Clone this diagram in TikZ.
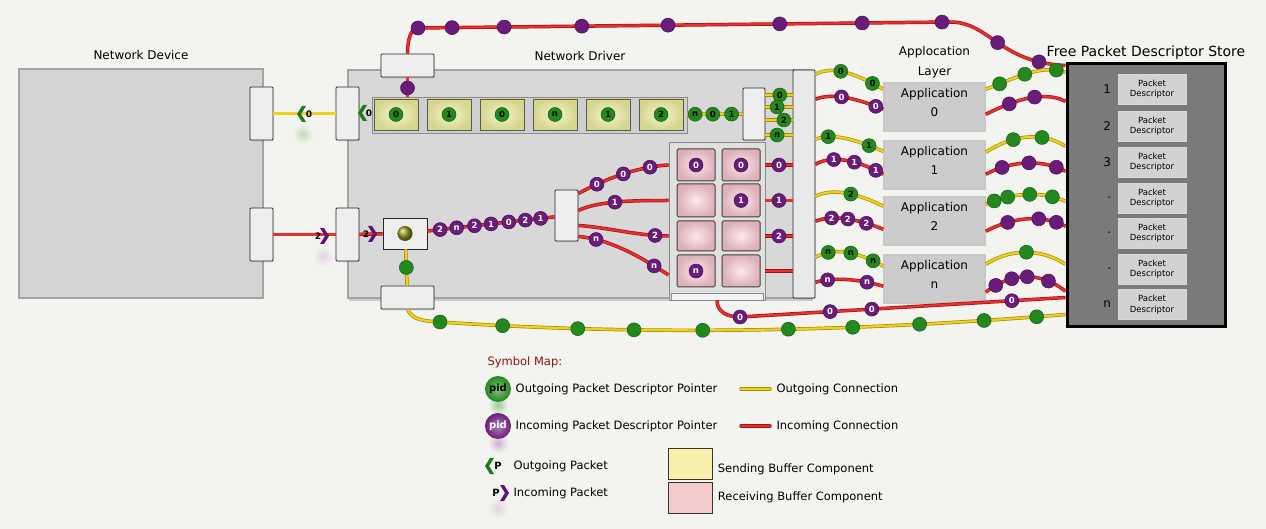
\documentclass[tikz,border=0pt]{standalone}
\usepackage{fontspec}
\setmainfont{DejaVu Sans}
\usetikzlibrary{positioning,fit,calc,shadows}

\definecolor{paper}{HTML}{F3F3F0}
\definecolor{boxgray}{HTML}{D4D4D4}
\definecolor{boxedge}{HTML}{A3A3A3}
\definecolor{drvgray}{HTML}{D8D8D8}
\definecolor{portfill}{HTML}{EEEEEE}
\definecolor{barfill}{HTML}{E9E9E9}
\definecolor{sendin}{HTML}{F4F4CF}
\definecolor{sendout}{HTML}{D6D68E}
\definecolor{recvin}{HTML}{FBE9EB}
\definecolor{recvout}{HTML}{DDB0B8}
\definecolor{appgray}{HTML}{CCCCCC}
\definecolor{storegray}{HTML}{7A7A7A}
\definecolor{pdgray}{HTML}{D2D2D2}
\definecolor{pidgreen}{HTML}{23891E}
\definecolor{pidgreenedge}{HTML}{135C10}
\definecolor{pidpurple}{HTML}{6A1C7B}
\definecolor{pidpurpleedge}{HTML}{470D55}
\definecolor{ylwcore}{HTML}{EED21E}
\definecolor{ylwedge}{HTML}{A88C00}
\definecolor{redcore}{HTML}{EC2E2E}
\definecolor{rededge}{HTML}{A01414}
\definecolor{chevgreen}{HTML}{1F7A1A}
\definecolor{chevpurple}{HTML}{5E1670}
\definecolor{inball}{HTML}{9C9A1E}
\definecolor{mapred}{HTML}{8A1212}
\definecolor{keyyellow}{HTML}{F6F0AA}
\definecolor{keypink}{HTML}{F6CACA}

\begin{document}
\begin{tikzpicture}[
    x=1pt, y=-1pt,
    font=\fontsize{11.5}{13}\selectfont,
    title/.style={font=\fontsize{12}{14}\selectfont},
    block/.style={draw=boxedge, fill=boxgray, line width=1.2pt, inner sep=0pt},
    port/.style={draw=black!85, fill=portfill, line width=0.9pt, rounded corners=1pt, inner sep=0pt,
        drop shadow={opacity=0.2, shadow xshift=1pt, shadow yshift=-1.5pt}},
    holder/.style={draw=black!45, fill=black!19, line width=0.8pt, inner sep=0pt},
    sendcell/.style={draw=black!65, line width=0.8pt, inner color=sendin, outer color=sendout, inner sep=0pt},
    recvcell/.style={draw=black!75, line width=1pt, rounded corners=1.5pt, inner color=recvin, outer color=recvout, inner sep=0pt},
    appbox/.style={draw=black!22, fill=appgray, line width=1.5pt, inner sep=0pt, align=center, font=\fontsize{12}{19}\selectfont},
    pdbox/.style={fill=pdgray, draw=black!15, line width=0.8pt, minimum width=68pt, minimum height=30pt, inner sep=0pt,
        align=center, font=\fontsize{8.5}{10.5}\selectfont},
    gdot/.style={circle, fill=pidgreen, draw=pidgreenedge, line width=0.5pt, minimum size=14pt, inner sep=0pt,
        text=black, font=\bfseries\fontsize{8.5}{8.5}\selectfont},
    pdot/.style={gdot, fill=pidpurple, draw=pidpurpleedge, text=white},
    keyball/.style={circle, minimum size=26pt, inner sep=0pt, inner color=#1!55!white, outer color=#1,
        font=\bfseries\fontsize{10}{10}\selectfont},
    yline/.style={draw=ylwedge, double=ylwcore, double distance=2.1pt, line width=0.7pt},
    rline/.style={draw=rededge, double=redcore, double distance=2.1pt, line width=0.7pt},
    pktlabel/.style={font=\bfseries\fontsize{9}{9}\selectfont, inner sep=0pt},
    glow/.style={circle, minimum size=20pt, inner sep=0pt, inner color=#1, outer color=paper},
    chevout/.pic={\fill[chevgreen] (4,-8) -- (0,-8) -- (-5,0) -- (0,8) -- (4,8) -- (-1,0) -- cycle;},
    chevin/.pic={\fill[chevpurple] (-4,-8) -- (0,-8) -- (5,0) -- (0,8) -- (-4,8) -- (1,0) -- cycle;},
]
\fill[paper] (0,0) rectangle (1266,529);
\useasboundingbox (0,0) rectangle (1266,529);

% device and driver
\node[block, fit={(19,69) (263,298)}] (device) {};
\node[title, above=5pt of device] (devicetitle) {Network Device};
\node[block, fill=drvgray, fit={(348,70) (812,298)}, drop shadow={opacity=0.35, shadow xshift=1pt, shadow yshift=-3pt}] (driver) {};
\node[title, above=5pt of driver] (drivertitle) {Network Driver};

% descriptor store
\node[draw=black, line width=3pt, fill=storegray, inner sep=0pt, fit={(1067,64) (1225,326)}] (store) {};
\node[title, font=\fontsize{14}{16}\selectfont, above=0pt of store] (storetitle) {Free Packet Descriptor Store};
\foreach \i/\lab/\yy in {1/1/89, 2/2/126, 3/3/162, 4/./198, 5/./233, 6/./269, 7/n/304.5}{
  \node[pdbox] (pd\i) at (1152,\yy) {Packet\\Descriptor};
  \node[font=\fontsize{12}{14}\selectfont, left=3pt of pd\i] (pdnum\i) {\lab};
}

% application layer
\foreach \i/\lab/\yt/\yb in {0/0/83/131, 1/1/141/189, 2/2/197/245, 3/n/255/303}
  \node[appbox, fit={(884,\yt) (985,\yb)}] (app\i) {Application\\\lab};
\node[font=\fontsize{12}{20}\selectfont, align=center, above=1pt of app0] (layertitle) {Applocation\\Layer};

% ports
\node[port, fill=barfill, fit={(793,70) (815,298)}] (bar) {};
\node[port, fit={(250,87) (273,140)}] (devout) {};
\node[port, fit={(250,208) (273,261)}] (devin) {};
\node[port, fit={(336,87) (359,140)}] (drvout) {};
\node[port, fit={(336,208) (359,261)}] (drvin) {};
\node[port, fit={(381,54) (434,77)}] (topport) {};
\node[port, fit={(381,286) (434,309)}] (bottomport) {};
\node[port, fit={(743,88) (765,140)}] (sendport) {};
\node[port, fit={(555,190) (578,241)}] (splitport) {};
\node[port, rounded corners=0pt, fit={(383,218) (427,249)}] (inbox) {};
\node[circle, minimum size=15pt, inner sep=0pt, ball color=inball] (inpkt) at (inbox) {};

% sending buffer
\node[holder, fit={(372,97) (687,133)}] (sendbuf) {};
\foreach \i/\xl/\lab in {1/374/0, 2/427/1, 3/480/0, 4/533/n, 5/586/1, 6/639/2}{
  \node[sendcell, fit={(\xl,99) (\xl+44,130)}] (scell\i) {};
  \node[gdot] (spid\i) at (scell\i) {\lab};
}

% receiving buffer
\node[holder, fill=black!12, fit={(669,142) (765,300)}] (recvbuf) {};
\node[draw=black!45, fill=black!5, inner sep=0pt, fit={(671,293) (763,300)}] (recvtray) {};
\foreach \r/\yt/\yb in {1/149/181, 2/184/217, 3/221/251, 4/255/287}
  \foreach \c/\xl/\xr in {1/677/715, 2/722/760}
    \node[recvcell, fit={(\xl,\yt) (\xr,\yb)}] (rcell\r\c) {};
\node[pdot] (rpid11) at (rcell11) {0};
\node[pdot] (rpid12) at (rcell12) {0};
\node[pdot] (rpid22) at (rcell22) {1};
\node[pdot] (rpid41) at (rcell41) {n};

% packets between device and driver
\draw[yline] (devout) -- (drvout);
\draw[rline] (devin) -- (drvin);
\draw[rline] (drvin) -- (inbox);
\draw[yline] (inbox) -- (bottomport) node[gdot, pos=0.5] (inpid) {};

% incoming descriptors to the receiving buffer
\draw[rline] (inbox) -- (splitport)
  node[pdot,pos=.10]{2} node[pdot,pos=.23]{n} node[pdot,pos=.37]{2} node[pdot,pos=.5]{1}
  node[pdot,pos=.64]{0} node[pdot,pos=.77]{2} node[pdot,pos=.89]{1};
\draw[rline] ($(splitport.east)+(0,-22)$) .. controls +(22,-12) and +(-35,2) .. (recvbuf.west |- rcell11)
  node[pdot,pos=.25]{0} node[pdot,pos=.55]{0} node[pdot,pos=.82]{0};
\draw[rline] ($(splitport.east)+(0,-5)$) .. controls +(20,-10) and +(-30,0) .. (recvbuf.west |- rcell21)
  node[pdot,pos=.45]{1};
\draw[rline] ($(splitport.east)+(0,10)$) .. controls +(30,2) and +(-30,0) .. (recvbuf.west |- rcell31)
  node[pdot,pos=.85]{2};
\draw[rline] ($(splitport.east)+(0,21)$) .. controls +(35,3) and +(-22,-14) .. ($(recvbuf.west |- rcell41)+(0,4)$)
  node[pdot,pos=.17]{n} node[pdot,pos=.8]{n};
\draw[rline] (recvbuf.east |- rcell12) -- (bar.west |- rcell12) node[pdot,pos=.5]{0};
\draw[rline] (recvbuf.east |- rcell22) -- (bar.west |- rcell22) node[pdot,pos=.5]{1};
\draw[rline] (recvbuf.east |- rcell32) -- (bar.west |- rcell32) node[pdot,pos=.5]{2};
\draw[rline] (recvbuf.east |- rcell42) -- (bar.west |- rcell42);

% outgoing descriptors from the sending buffer
\draw[yline] (sendbuf) -- (sendport) node[gdot,pos=.14]{n} node[gdot,pos=.46]{0} node[gdot,pos=.8]{1};
\foreach \dy/\p/\lab in {-19/.53/0, -7/.43/1, 6/.68/2, 21/.43/n}
  \draw[yline] ($(sendport.east)+(0,\dy)$) -- ($(bar.west |- sendport.east)+(0,\dy)$) node[gdot,pos=\p]{\lab};

% return of free descriptors
\coordinate (topbend) at (418,28);
\coordinate (topfar) at (950,22);
\draw[rline] (topport.north) .. controls +(0,-14) and +(-7,0) .. (topbend)
  -- (topfar) node[pdot,pos=0]{} node[pdot,pos=.064]{} node[pdot,pos=.162]{} node[pdot,pos=.308]{}
     node[pdot,pos=.47]{} node[pdot,pos=.68]{} node[pdot,pos=.835]{} node[pdot,pos=.985]{}
  .. controls +(40,0) and +(-67,-3) .. ($(store.north west)+(0,3)$) node[pdot,pos=.5]{} node[pdot,pos=.85]{};
\draw[rline] (topport) -- (sendbuf.north -| topport) node[pdot,pos=.55] (droppid) {};
\coordinate (lowbend) at (440,322);
\draw[yline] (bottomport.south) .. controls +(5,11) and +(-15,-1) .. (lowbend) node[gdot,pos=1]{}
  .. controls +(209,14) and +(-209,17) .. ($(store.south west)+(0,-13)$)
  node[gdot,pos=.1]{} node[gdot,pos=.22]{} node[gdot,pos=.31]{} node[gdot,pos=.42]{} node[gdot,pos=.557]{}
  node[gdot,pos=.66]{} node[gdot,pos=.767]{} node[gdot,pos=.87]{} node[gdot,pos=.954]{};
\coordinate (recvbend) at (740,317);
\draw[rline] (recvbuf.south) .. controls +(0,12) and +(-12,0) .. (recvbend)
  -- ($(store.south west)+(0,-30)$) node[pdot,pos=0]{0} node[pdot,pos=.277]{0} node[pdot,pos=.405]{0} node[pdot,pos=.835]{0};

% application links, bar side
\draw[yline] ($(bar.east |- app0.north)+(0,-8)$) .. controls +(20,-11) and +(-20,-11) .. ($(app0.north west)+(0,7)$)
  node[gdot,pos=.38]{0} node[gdot,pos=.83]{0};
\draw[rline] ($(bar.east |- app0.north)+(0,17)$) .. controls +(20,-8) and +(-20,-8) .. ($(app0.north west)+(0,27)$)
  node[pdot,pos=.39]{0} node[pdot,pos=.88]{0};
\draw[yline] ($(bar.east |- app1.north)+(0,-1)$) .. controls +(20,-8) and +(-20,-8) .. ($(app1.north west)+(0,11)$)
  node[gdot,pos=.2]{1} node[gdot,pos=.78]{1};
\draw[rline] ($(bar.east |- app1.north)+(0,24)$) .. controls +(20,-11) and +(-20,-11) .. ($(app1.north west)+(0,34)$)
  node[pdot,pos=.28]{1} node[pdot,pos=.57]{1} node[pdot,pos=.88]{1};
\draw[yline] (bar.east |- app2.north) .. controls +(20,-10) and +(-20,-10) .. ($(app2.north west)+(0,10)$)
  node[gdot,pos=.52]{2};
\draw[rline] ($(bar.east |- app2.north)+(0,25)$) .. controls +(20,-8) and +(-20,-8) .. ($(app2.north west)+(0,33)$)
  node[pdot,pos=.25]{2} node[pdot,pos=.48]{2} node[pdot,pos=.74]{2};
\draw[yline] ($(bar.east |- app3.north)+(0,3)$) .. controls +(20,-12) and +(-20,-12) .. ($(app3.north west)+(0,12)$)
  node[gdot,pos=.2]{n} node[gdot,pos=.52]{n} node[gdot,pos=.84]{n};
\draw[rline] ($(bar.east |- app3.north)+(0,28)$) .. controls +(20,-6) and +(-20,-6) .. ($(app3.north west)+(0,32)$)
  node[pdot,pos=.19]{n} node[pdot,pos=.75]{n};

% application links, store side
\draw[yline] ($(app0.north east)+(0,7)$) .. controls +(25,-9) and +(-25,-9) .. ($(store.west |- app0.north)+(0,-10)$)
  node[gdot,pos=.18]{} node[gdot,pos=.49]{} node[gdot,pos=.88]{};
\draw[rline] ($(app0.north east)+(0,32)$) .. controls +(25,-12) and +(-25,-12) .. ($(store.west |- app0.north)+(0,19)$)
  node[pdot,pos=.3]{} node[pdot,pos=.61]{};
\draw[yline] ($(app1.north east)+(0,12)$) .. controls +(25,-16) and +(-25,-16) .. ($(store.west |- app1.north)+(0,6)$)
  node[gdot,pos=.35]{} node[gdot,pos=.7]{};
\draw[rline] ($(app1.north east)+(0,34)$) .. controls +(25,-13) and +(-25,-13) .. ($(store.west |- app1.north)+(0,31)$)
  node[pdot,pos=.21]{} node[pdot,pos=.54]{} node[pdot,pos=.88]{};
\draw[yline] ($(app2.north east)+(0,8)$) .. controls +(25,-11) and +(-25,-11) .. ($(store.west |- app2.north)+(0,5)$)
  node[gdot,pos=.11]{} node[gdot,pos=.28]{} node[gdot,pos=.55]{} node[gdot,pos=.83]{};
\draw[rline] ($(app2.north east)+(0,35)$) .. controls +(25,-13) and +(-25,-13) .. ($(store.west |- app2.north)+(0,30)$)
  node[pdot,pos=.28]{} node[pdot,pos=.66]{} node[pdot,pos=.88]{};
\draw[yline] ($(app3.north east)+(0,10)$) .. controls +(25,-16) and +(-25,-16) .. ($(store.west |- app3.north)+(0,10)$)
  node[gdot,pos=.51]{};
\draw[rline] ($(app3.north east)+(0,38)$) .. controls +(25,-20) and +(-25,-20) .. ($(store.west |- app3.north)+(0,37)$)
  node[pdot,pos=.13]{} node[pdot,pos=.33]{} node[pdot,pos=.52]{} node[pdot,pos=.78]{};

% packets
\node[glow=pidgreen!30] (outglow) at (303,134) {};
\node[glow=pidpurple!20] (inglow) at (323,256) {};
\pic at (302,114) {chevout};
\node[pktlabel] (pktout1) at (309,114) {0};
\pic at (363,113) {chevout};
\node[pktlabel] (pktout2) at (369,113) {0};
\node[pktlabel] (pktin1) at (318,236) {2};
\pic at (324,236) {chevin};
\node[pktlabel] (pktin2) at (366,234) {2};
\pic at (372,234) {chevin};

% symbol map
\node[text=mapred, anchor=west] (maptitle) at (484,362) {Symbol Map:};
\node[glow=pidgreen!45] (keyoutglow) at (498,405) {};
\node[glow=pidpurple!35] (keyinglow) at (498,443) {};
\node[glow=pidpurple!20] (keypglow) at (498,508) {};
\node[keyball=pidgreen] (keyout) at (498,389) {pid};
\node[right=1pt of keyout] (keyouttext) {Outgoing Packet Descriptor Pointer};
\node[keyball=pidpurple, text=white] (keyin) at (498,426) {pid};
\node[right=1pt of keyin] (keyintext) {Incoming Packet Descriptor Pointer};
\pic at (490,466) {chevout};
\node[font=\bfseries\fontsize{10}{10}\selectfont] (keypout) at (498,466) {P};
\node[anchor=west] (keypouttext) at (510,466) {Outgoing Packet};
\node[font=\bfseries\fontsize{10}{10}\selectfont] (keypin) at (496,493) {P};
\pic at (504,493) {chevin};
\node[anchor=west] (keypintext) at (510,493) {Incoming Packet};
\coordinate (keyyA) at (741,389);
\coordinate (keyyB) at (770,389);
\draw[yline, line cap=round] (keyyA) -- (keyyB);
\node[right=3pt of keyyB] (keyytext) {Outgoing Connection};
\coordinate (keyrA) at (741,426);
\coordinate (keyrB) at (770,426);
\draw[rline, line cap=round] (keyrA) -- (keyrB);
\node[right=3pt of keyrB] (keyrtext) {Incoming Connection};
\node[draw=black!80, fill=keyyellow, line width=0.8pt, inner sep=0pt, fit={(668,448) (712,479)}] (keysend) {};
\node[anchor=west] (keysendtext) at ($(keysend.east)+(2,6)$) {Sending Buffer Component};
\node[draw=black!80, fill=keypink, line width=0.8pt, inner sep=0pt, fit={(668,482) (712,513)}] (keyrecv) {};
\node[right=2pt of keyrecv] (keyrecvtext) {Receiving Buffer Component};
\end{tikzpicture}
\end{document}
